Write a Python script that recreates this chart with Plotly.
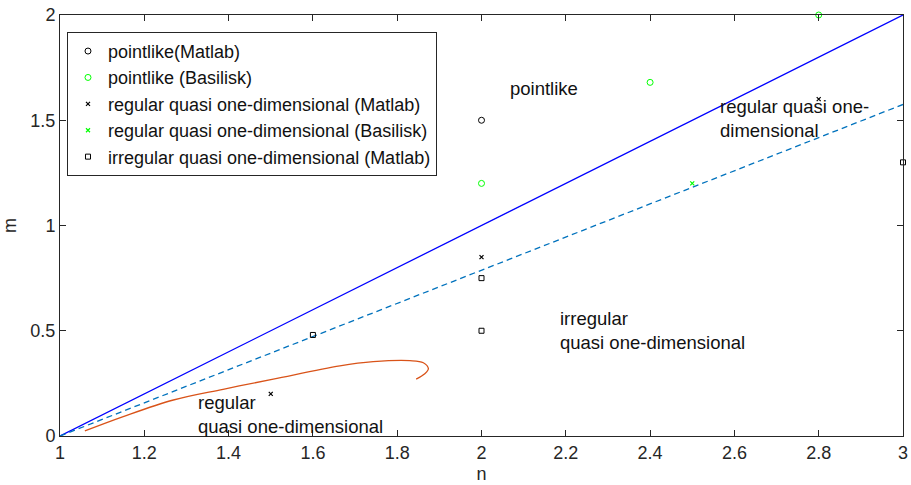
import plotly.graph_objects as go

# Data
pl_matlab_n = [2.0]
pl_matlab_m = [1.5]
pl_basilisk_n = [2.0, 2.4, 2.8]
pl_basilisk_m = [1.2, 1.68, 2.0]
reg_matlab_n = [2.0, 1.5, 2.8]
reg_matlab_m = [0.85, 0.2, 1.6]
reg_basilisk_n = [2.5]
reg_basilisk_m = [1.2]
irr_matlab_n = [2.0, 2.0, 1.6, 3.0]
irr_matlab_m = [0.75, 0.5, 0.48, 1.3]

solid_line_n = [1.0, 3.0]
solid_line_m = [0.0, 2.0]
dashed_line_n = [1.0, 3.0]
dashed_line_m = [0.0, 1.575]

curve_n = [1.059, 1.150, 1.269, 1.387, 1.506, 1.664, 1.743, 1.830, 1.862, 1.874, 1.870, 1.858, 1.845]
curve_m = [0.024, 0.092, 0.171, 0.222, 0.270, 0.333, 0.353, 0.358, 0.348, 0.320, 0.305, 0.285, 0.270]

x_ticks = [1, 1.2, 1.4, 1.6, 1.8, 2, 2.2, 2.4, 2.6, 2.8, 3]
x_tick_labels = ["1", "1.2", "1.4", "1.6", "1.8", "2", "2.2", "2.4", "2.6", "2.8", "3"]
y_ticks = [0, 0.5, 1, 1.5, 2]
y_tick_labels = ["0", "0.5", "1", "1.5", "2"]

FONT = "Liberation Sans, Arial, Helvetica, sans-serif"
TXT = 18.5

fig = go.Figure()

fig.add_trace(go.Scatter(x=solid_line_n, y=solid_line_m, mode="lines",
                         line=dict(color="#0000ff", width=1.3), showlegend=False))
fig.add_trace(go.Scatter(x=dashed_line_n, y=dashed_line_m, mode="lines",
                         line=dict(color="#0072bd", width=1.3, dash="6px,4px"), showlegend=False))
fig.add_trace(go.Scatter(x=curve_n, y=curve_m, mode="lines", line_shape="spline",
                         line=dict(color="#d95319", width=1.3), showlegend=False))

fig.add_trace(go.Scatter(x=pl_matlab_n, y=pl_matlab_m, mode="markers", name="pointlike(Matlab)",
                         legendgroup="a", cliponaxis=False,
                         marker=dict(symbol="circle-open", color="black", size=6, line=dict(width=1))))
fig.add_trace(go.Scatter(x=pl_basilisk_n, y=pl_basilisk_m, mode="markers", name="pointlike (Basilisk)",
                         legendgroup="b", cliponaxis=False,
                         marker=dict(symbol="circle-open", color="#00ff00", size=6, line=dict(width=1))))
fig.add_trace(go.Scatter(x=reg_matlab_n, y=reg_matlab_m, mode="markers",
                         name="regular quasi one-dimensional (Matlab)", legendgroup="c", cliponaxis=False,
                         marker=dict(symbol="x-thin-open", color="black", size=4, line=dict(width=1.2))))
fig.add_trace(go.Scatter(x=reg_basilisk_n, y=reg_basilisk_m, mode="markers",
                         name="regular quasi one-dimensional (Basilisk)", legendgroup="d", cliponaxis=False,
                         marker=dict(symbol="x-thin-open", color="#00ff00", size=4, line=dict(width=1.2))))
fig.add_trace(go.Scatter(x=irr_matlab_n, y=irr_matlab_m, mode="markers",
                         name="irregular quasi one-dimensional (Matlab)", legendgroup="e", cliponaxis=False,
                         marker=dict(symbol="square-open", color="black", size=5, line=dict(width=1))))

ann_font = dict(family=FONT, size=TXT, color="#111111")
annotations = [
    dict(x=2.065, y=1.653, text="pointlike"),
    dict(x=2.563, y=1.508, text="regular quasi one-<br>dimensional"),
    dict(x=2.184, y=0.501, text="irregular<br>quasi one-dimensional"),
    dict(x=1.325, y=0.102, text="regular<br>quasi one-dimensional"),
]
for a in annotations:
    fig.add_annotation(x=a["x"], y=a["y"], text=a["text"], showarrow=False,
                       xanchor="left", yanchor="middle", align="left", font=ann_font,
                       borderpad=0)

axis_common = dict(showgrid=False, zeroline=False, showline=True, linecolor="#262626",
                   linewidth=1, mirror="ticks", ticks="inside", ticklen=6,
                   tickcolor="#262626", automargin=False,
                   tickfont=dict(family=FONT, size=18, color="#262626"))

fig.update_xaxes(range=[1, 3], tickvals=x_ticks, ticktext=x_tick_labels,
                 title=dict(text="n", font=dict(family=FONT, size=18, color="#262626"), standoff=5),
                 **axis_common)
fig.update_yaxes(range=[0, 2], tickvals=y_ticks, ticktext=y_tick_labels,
                 title=dict(text="m", font=dict(family=FONT, size=18, color="#262626"), standoff=10),
                 **axis_common)

fig.update_layout(
    width=911, height=485,
    margin=dict(l=60, r=8, t=15, b=49),
    paper_bgcolor="white", plot_bgcolor="white",
    legend=dict(x=0.0083, y=0.96, xanchor="left", yanchor="top",
                bgcolor="white", bordercolor="#262626", borderwidth=1,
                font=dict(family=FONT, size=18, color="#111111"),
                tracegroupgap=0, itemwidth=30),
)

fig.write_html("out.html", config={"displayModeBar": False},
               post_script="document.body.style.margin='0';document.body.style.overflow='hidden';")
